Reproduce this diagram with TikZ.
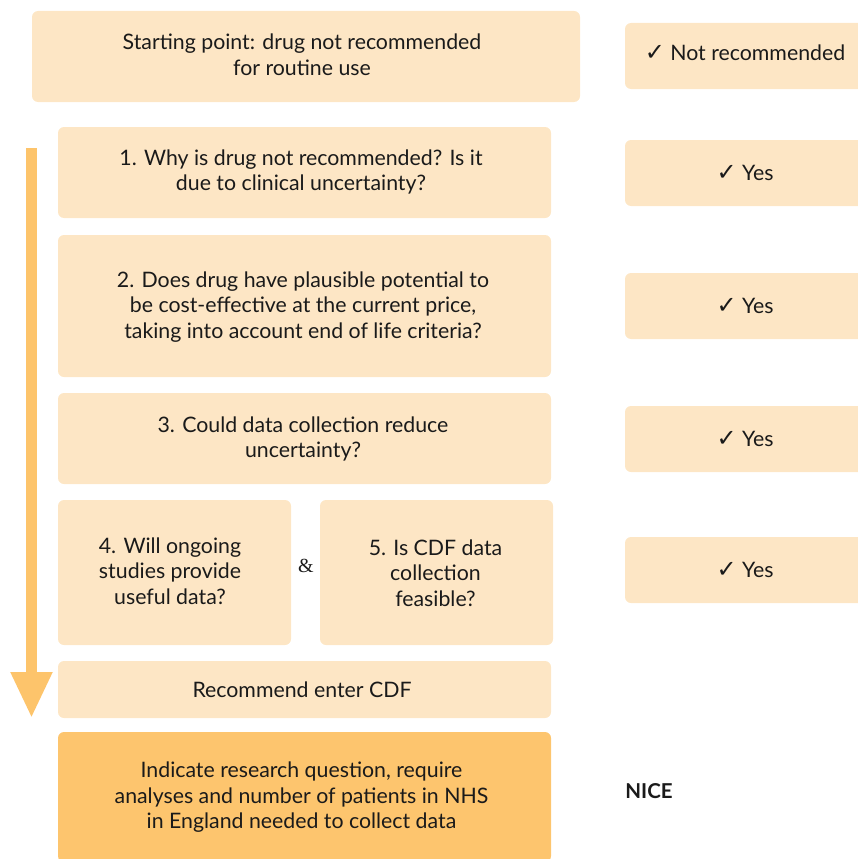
\documentclass[tikz,border=0pt]{standalone}
\usepackage{fontspec}
\setmainfont{Lato}
\newfontfamily\symfont{DejaVu Sans}
\newfontfamily\ampfont{Liberation Serif}
\usetikzlibrary{arrows.meta}
\definecolor{boxlight}{HTML}{FDE6C5}
\definecolor{boxdark}{HTML}{FDC56E}
\definecolor{arrowc}{HTML}{FDC46B}
\definecolor{ink}{HTML}{1A1A1A}
\newcommand{\tick}{{\symfont\fontsize{24}{25.5}\selectfont\char"2713}}
\tikzset{
  stepbox/.style={fill=boxlight, rounded corners=6pt, align=center, inner sep=0pt,
    text=ink, font=\fontsize{21.3}{25.5}\selectfont},
  darkbox/.style={stepbox, fill=boxdark},
  answer/.style={stepbox, minimum width=240pt, minimum height=66pt},
  label/.style={align=center, inner sep=0pt, text=ink, font=\fontsize{21.3}{25.5}\selectfont},
}
\begin{document}
\begin{tikzpicture}[x=1pt,y=-1pt]
\useasboundingbox (0,0) rectangle (858,859);
\clip (0,0) rectangle (858,859);

% main column of steps
\node[stepbox, minimum width=548pt, minimum height=91pt] (start) at (306,56.5) {};
\node[label] (starttxt) at (302,54.5)
  {Starting point: drug not recommended\\for routine use};
\node[stepbox, minimum width=493pt, minimum height=91pt] (q1) at (304.5,172.5) {};
\node[label] (q1txt) at (301,172)
  {1. Why is drug not recommended? Is it\\due to clinical uncertainty?};
\node[stepbox, minimum width=493pt, minimum height=142pt] (q2) at (304.5,306) {};
\node[label] (q2txt) at (303,307)
  {2. Does drug have plausible potential to\\be cost-effective at the current price,\\taking into account end of life criteria?};
\node[stepbox, minimum width=493pt, minimum height=91pt] (q3) at (304.5,438.5) {};
\node[label] (q3txt) at (303,439)
  {3. Could data collection reduce\\uncertainty?};
\node[stepbox, minimum width=233pt, minimum height=145pt] (q4) at (174.5,572.5) {};
\node[label] (q4txt) at (170,571)
  {4. Will ongoing\\studies provide\\useful data?};
\node[text=ink, font=\ampfont\fontsize{20}{22}\selectfont] (amp) at (306,566) {\&};
\node[stepbox, minimum width=233pt, minimum height=145pt] (q5) at (436.5,572.5) {};
\node[label] (q5txt) at (435.5,573)
  {5. Is CDF data\\collection\\feasible?};
\node[stepbox, minimum width=493pt, minimum height=57pt] (rec) at (304.5,689.5) {};
\node[label] (rectxt) at (302,689.5) {Recommend enter CDF};
\node[darkbox, minimum width=493pt, minimum height=130pt] (ind) at (304.5,797) {};
\node[label] (indtxt) at (301.5,797.5)
  {Indicate research question, require\\analyses and number of patients in NHS\\in England needed to collect data};

% answers column
\node[answer] (a0) at (745,56) {};
\node[label] (a0txt) at (745,53) {\tick\ Not recommended};
\node[answer] (a1) at (745,173) {\tick\ Yes};
\node[answer] (a2) at (745,306) {\tick\ Yes};
\node[answer] (a3) at (745,439) {\tick\ Yes};
\node[answer] (a4) at (745,570) {\tick\ Yes};
\node[text=ink, font=\bfseries\fontsize{20.5}{25.5}\selectfont] (nice) at (649,791) {NICE};

% progress arrow down the left side
\coordinate (arrtop) at (31.5,148);
\coordinate (arrtip) at (31.5,718);
\draw[arrowc, line width=11pt, -{Triangle[width=39pt,length=46pt]}] (arrtop) -- (arrtip);
\end{tikzpicture}
\end{document}
